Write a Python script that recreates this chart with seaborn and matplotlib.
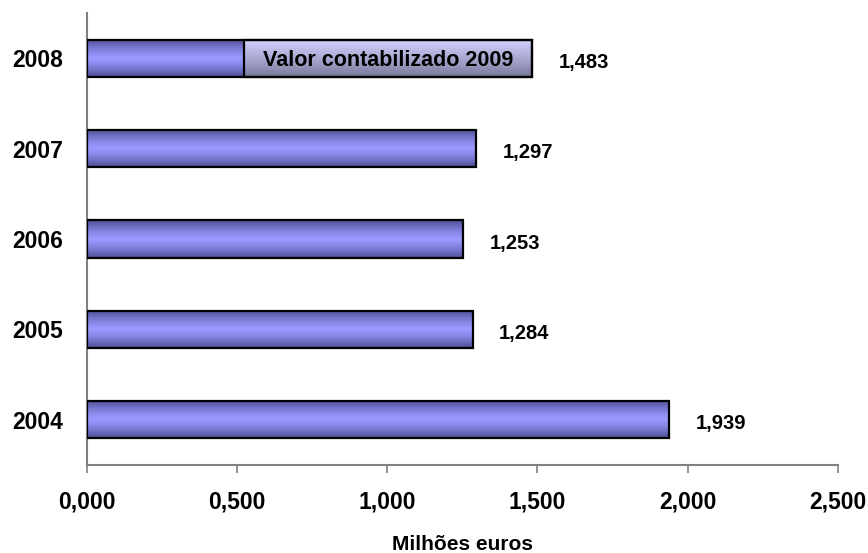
import seaborn as sns
import pandas as pd
import numpy as np
import matplotlib.pyplot as plt

# valores em milhões de euros
years = ['2004', '2005', '2006', '2007', '2008']
values = [1.939, 1.284, 1.253, 1.297, 1.483]
# parte de 2008 que corresponde a valor contabilizado em 2009
split_year = '2008'
split_start = 0.524
split_text = 'Valor contabilizado 2009'
xticks = [0.0, 0.5, 1.0, 1.5, 2.0, 2.5]
xtick_labels = ['0,000', '0,500', '1,000', '1,500', '2,000', '2,500']

data = pd.DataFrame({'Ano': years, 'Valor': values})
order = years[::-1]

sns.set_style('white')
plt.rcParams['font.family'] = ['Liberation Sans', 'DejaVu Sans']
plt.rcParams['font.weight'] = 'bold'
plt.rcParams['text.color'] = 'black'
plt.rcParams['axes.labelcolor'] = 'black'
plt.rcParams['xtick.labelcolor'] = 'black'
plt.rcParams['ytick.labelcolor'] = 'black'

fig = plt.figure(figsize=(8.68, 5.53), dpi=100)
ax = fig.add_axes([0.0997, 0.1591, 0.8658, 0.8174])

bar_h = 0.41
sns.barplot(data=data, x='Valor', y='Ano', order=order, orient='h', ax=ax,
            width=bar_h, color='#9999FF', edgecolor='black', linewidth=1.6)

# gradiente vertical tipo Excel
n = 64
t = np.linspace(0, 1, n)
f = 1 - np.abs(2 * t - 1) ** 1.4
dark = np.array([0.30, 0.30, 0.58])
light = np.array([0.60, 0.60, 1.00])
grad_main = (dark + (light - dark) * f[:, None])[:, None, :]

f2 = np.clip((1 - t) ** 0.8, 0, 1)
dark2 = np.array([0.45, 0.45, 0.58])
light2 = np.array([0.82, 0.82, 1.00])
grad_light = (dark2 + (light2 - dark2) * f2[:, None])[:, None, :]


def paint(patch, grad):
    x0, y0 = patch.get_x(), patch.get_y()
    w, h = patch.get_width(), patch.get_height()
    im = ax.imshow(grad, extent=(x0, x0 + w, y0 + h, y0), aspect='auto',
                   zorder=2, interpolation='bilinear')
    im.set_clip_path(patch)
    patch.set_facecolor('none')
    patch.set_zorder(3)


for p in list(ax.patches):
    paint(p, grad_main)

# segmento de 2008 contabilizado em 2009
ypos = order.index(split_year)
end = values[years.index(split_year)]
seg = ax.barh(ypos, end - split_start, left=split_start, height=bar_h,
              color='#CCCCFF', edgecolor='black', linewidth=1.6)[0]
paint(seg, grad_light)
ax.text((split_start + end) / 2, ypos + 0.02, split_text, ha='center', va='center',
        fontsize=15.5, fontweight='bold', color='black', zorder=4)

# rótulos dos valores
for yr, v in zip(years, values):
    ax.annotate(f'{v:.3f}'.replace('.', ','), xy=(v, order.index(yr)),
                xytext=(19, -3), textcoords='offset points', ha='left', va='center',
                fontsize=14.5, fontweight='bold', color='black')

ax.set_xlim(0, 2.5)
ax.set_ylim(len(order) - 0.5, -0.5)
ax.set_xticks(xticks)
ax.set_xticklabels(xtick_labels)
ax.set_xlabel('Milhões euros', fontsize=15, fontweight='bold', labelpad=16,
              color='black')
ax.set_ylabel('')

for s in ['top', 'right']:
    ax.spines[s].set_visible(False)
for s in ['left', 'bottom']:
    ax.spines[s].set_color('#808080')
    ax.spines[s].set_linewidth(1.5)

ax.tick_params(axis='x', length=6, width=1.2, color='#808080', pad=12,
               labelsize=16.5, direction='out', bottom=True, labelcolor='black')
ax.tick_params(axis='y', length=0, pad=17, labelsize=16.5, labelcolor='black')
for lab in ax.get_xticklabels() + ax.get_yticklabels():
    lab.set_fontweight('bold')

plt.savefig('out.png', dpi=100)
